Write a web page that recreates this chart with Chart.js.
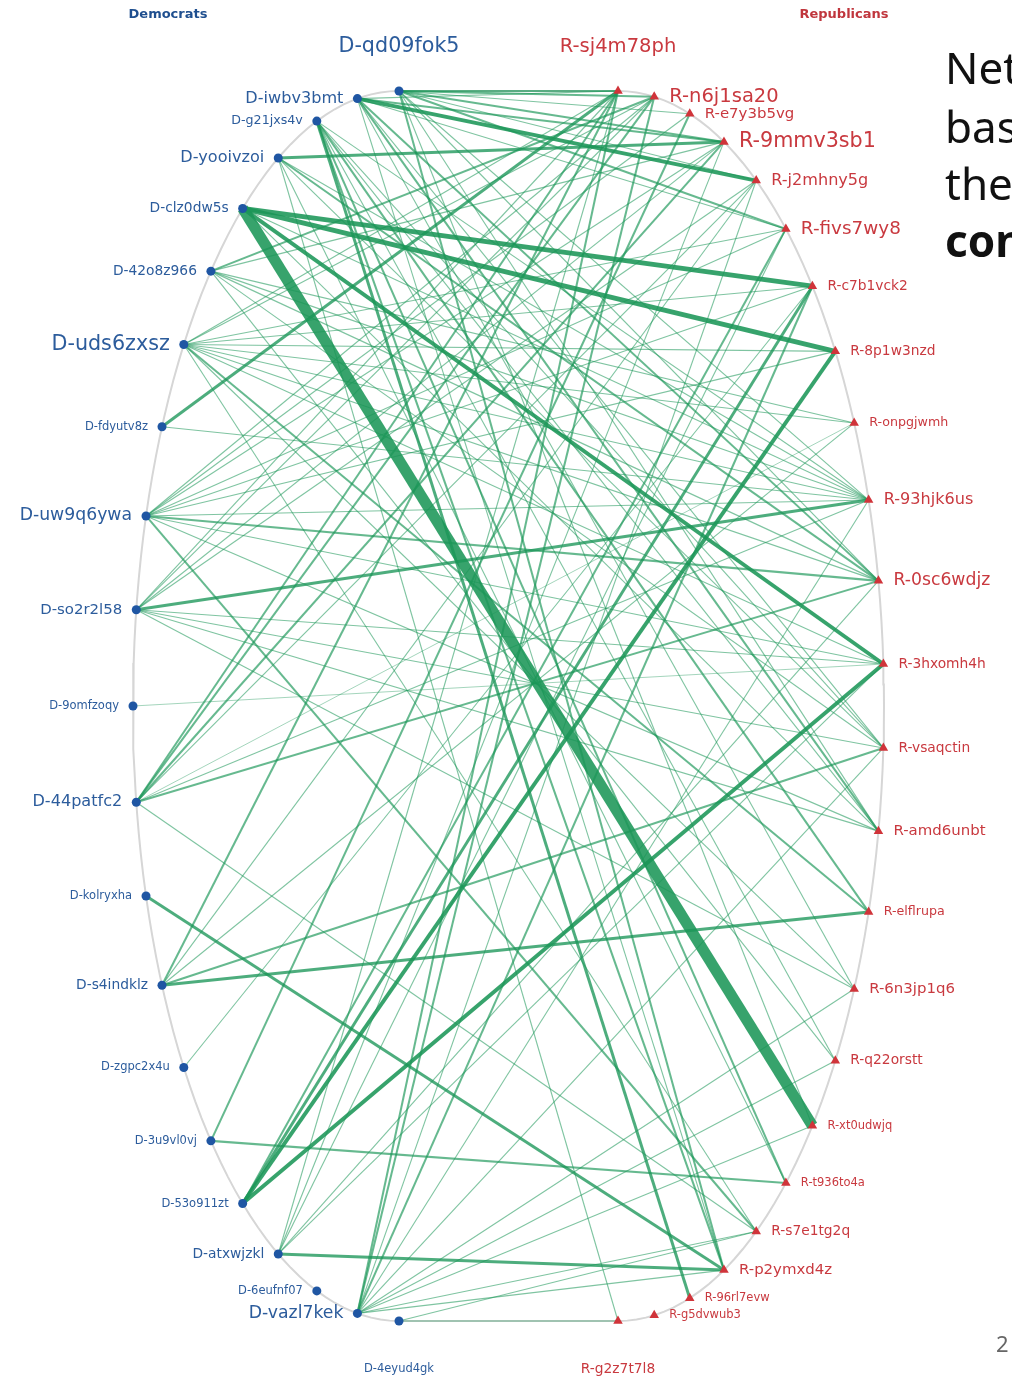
<!DOCTYPE html>
<html>
<head>
<meta charset="utf-8">
<script src="https://cdn.jsdelivr.net/npm/chart.js@4.4.1/dist/chart.umd.min.js"></script>
<style>
  html, body { margin: 0; padding: 0; background: #fff; }
  #wrap { width: 1012px; height: 1378px; }
</style>
</head>
<body>
<div id="wrap"><canvas id="net" width="1012" height="1378"></canvas></div>
<script>
// nodes, top to bottom on each side
const democrats = ['D-qd09fok5', 'D-iwbv3bmt', 'D-g21jxs4v', 'D-yooivzoi', 'D-clz0dw5s', 'D-42o8z966',
  'D-uds6zxsz', 'D-fdyutv8z', 'D-uw9q6ywa', 'D-so2r2l58', 'D-9omfzoqy', 'D-44patfc2', 'D-kolryxha',
  'D-s4indklz', 'D-zgpc2x4u', 'D-3u9vl0vj', 'D-53o911zt', 'D-atxwjzkl', 'D-6eufnf07', 'D-vazl7kek', 'D-4eyud4gk'];
const republicans = ['R-sj4m78ph', 'R-n6j1sa20', 'R-e7y3b5vg', 'R-9mmv3sb1', 'R-j2mhny5g', 'R-fivs7wy8',
  'R-c7b1vck2', 'R-8p1w3nzd', 'R-onpgjwmh', 'R-93hjk6us', 'R-0sc6wdjz', 'R-3hxomh4h', 'R-vsaqctin',
  'R-amd6unbt', 'R-elflrupa', 'R-6n3jp1q6', 'R-q22orstt', 'R-xt0udwjq', 'R-t936to4a', 'R-s7e1tg2q',
  'R-p2ymxd4z', 'R-96rl7evw', 'R-g5dvwub3', 'R-g2z7t7l8'];

// prominence score of each node (drives the label size)
const demProminence = [8, 4, 1, 4, 2, 2, 8, 0, 5, 3, 0, 4, 0, 2, 0, 0, 0, 2, 0, 5, 0];
const repProminence = [7, 7, 3, 8, 4, 6, 2, 2, 1, 4, 5, 2, 2, 3, 1, 3, 2, 0, 0, 2, 3, 0, 0, 2];

// links: [democrat, republican, strength]
const links = [
  ['D-qd09fok5', 'R-sj4m78ph', 2], ['D-qd09fok5', 'R-n6j1sa20', 2], ['D-qd09fok5', 'R-e7y3b5vg', 1],
  ['D-qd09fok5', 'R-9mmv3sb1', 2], ['D-qd09fok5', 'R-j2mhny5g', 1], ['D-qd09fok5', 'R-fivs7wy8', 2],
  ['D-qd09fok5', 'R-93hjk6us', 1], ['D-qd09fok5', 'R-0sc6wdjz', 1], ['D-qd09fok5', 'R-amd6unbt', 1],
  ['D-qd09fok5', 'R-xt0udwjq', 1], ['D-qd09fok5', 'R-p2ymxd4z', 2],
  ['D-iwbv3bmt', 'R-j2mhny5g', 4], ['D-iwbv3bmt', 'R-9mmv3sb1', 2], ['D-iwbv3bmt', 'R-sj4m78ph', 1],
  ['D-iwbv3bmt', 'R-fivs7wy8', 1], ['D-iwbv3bmt', 'R-0sc6wdjz', 2], ['D-iwbv3bmt', 'R-vsaqctin', 1],
  ['D-iwbv3bmt', 'R-amd6unbt', 2], ['D-iwbv3bmt', 'R-6n3jp1q6', 1], ['D-iwbv3bmt', 'R-p2ymxd4z', 1],
  ['D-g21jxs4v', 'R-96rl7evw', 3], ['D-g21jxs4v', 'R-p2ymxd4z', 2], ['D-g21jxs4v', 'R-t936to4a', 2],
  ['D-g21jxs4v', 'R-q22orstt', 1], ['D-g21jxs4v', 'R-elflrupa', 2], ['D-g21jxs4v', 'R-amd6unbt', 1],
  ['D-g21jxs4v', 'R-93hjk6us', 1], ['D-g21jxs4v', 'R-vsaqctin', 1],
  ['D-yooivzoi', 'R-9mmv3sb1', 3], ['D-yooivzoi', 'R-0sc6wdjz', 2], ['D-yooivzoi', 'R-93hjk6us', 1],
  ['D-yooivzoi', 'R-vsaqctin', 1], ['D-yooivzoi', 'R-t936to4a', 1], ['D-yooivzoi', 'R-g2z7t7l8', 1],
  ['D-clz0dw5s', 'R-xt0udwjq', 10], ['D-clz0dw5s', 'R-c7b1vck2', 5], ['D-clz0dw5s', 'R-8p1w3nzd', 5],
  ['D-clz0dw5s', 'R-3hxomh4h', 4], ['D-clz0dw5s', 'R-93hjk6us', 1], ['D-clz0dw5s', 'R-amd6unbt', 1],
  ['D-42o8z966', 'R-n6j1sa20', 2], ['D-42o8z966', 'R-9mmv3sb1', 1], ['D-42o8z966', 'R-onpgjwmh', 1],
  ['D-42o8z966', 'R-93hjk6us', 1], ['D-42o8z966', 'R-0sc6wdjz', 1], ['D-42o8z966', 'R-vsaqctin', 1],
  ['D-42o8z966', 'R-q22orstt', 1],
  ['D-uds6zxsz', 'R-sj4m78ph', 1], ['D-uds6zxsz', 'R-n6j1sa20', 1], ['D-uds6zxsz', 'R-fivs7wy8', 1],
  ['D-uds6zxsz', 'R-c7b1vck2', 1], ['D-uds6zxsz', 'R-8p1w3nzd', 1], ['D-uds6zxsz', 'R-onpgjwmh', 1],
  ['D-uds6zxsz', 'R-93hjk6us', 1], ['D-uds6zxsz', 'R-0sc6wdjz', 1], ['D-uds6zxsz', 'R-3hxomh4h', 1],
  ['D-uds6zxsz', 'R-elflrupa', 2], ['D-uds6zxsz', 'R-6n3jp1q6', 1], ['D-uds6zxsz', 'R-s7e1tg2q', 1],
  ['D-fdyutv8z', 'R-sj4m78ph', 3], ['D-fdyutv8z', 'R-93hjk6us', 1],
  ['D-uw9q6ywa', 'R-n6j1sa20', 1], ['D-uw9q6ywa', 'R-e7y3b5vg', 1], ['D-uw9q6ywa', 'R-9mmv3sb1', 1],
  ['D-uw9q6ywa', 'R-fivs7wy8', 1], ['D-uw9q6ywa', 'R-c7b1vck2', 1], ['D-uw9q6ywa', 'R-8p1w3nzd', 1],
  ['D-uw9q6ywa', 'R-93hjk6us', 1], ['D-uw9q6ywa', 'R-0sc6wdjz', 2], ['D-uw9q6ywa', 'R-3hxomh4h', 1],
  ['D-uw9q6ywa', 'R-amd6unbt', 1], ['D-uw9q6ywa', 'R-s7e1tg2q', 2],
  ['D-so2r2l58', 'R-sj4m78ph', 1], ['D-so2r2l58', 'R-n6j1sa20', 1], ['D-so2r2l58', 'R-9mmv3sb1', 1],
  ['D-so2r2l58', 'R-j2mhny5g', 1], ['D-so2r2l58', 'R-93hjk6us', 3], ['D-so2r2l58', 'R-3hxomh4h', 1],
  ['D-so2r2l58', 'R-vsaqctin', 1], ['D-so2r2l58', 'R-amd6unbt', 1], ['D-so2r2l58', 'R-6n3jp1q6', 1],
  ['D-9omfzoqy', 'R-3hxomh4h', 0.5],
  ['D-44patfc2', 'R-sj4m78ph', 2], ['D-44patfc2', 'R-n6j1sa20', 2], ['D-44patfc2', 'R-9mmv3sb1', 2],
  ['D-44patfc2', 'R-j2mhny5g', 1], ['D-44patfc2', 'R-onpgjwmh', 0.5], ['D-44patfc2', 'R-93hjk6us', 1],
  ['D-44patfc2', 'R-0sc6wdjz', 2], ['D-44patfc2', 'R-s7e1tg2q', 1],
  ['D-kolryxha', 'R-p2ymxd4z', 3],
  ['D-s4indklz', 'R-sj4m78ph', 2], ['D-s4indklz', 'R-j2mhny5g', 1], ['D-s4indklz', 'R-onpgjwmh', 1],
  ['D-s4indklz', 'R-vsaqctin', 2], ['D-s4indklz', 'R-elflrupa', 3],
  ['D-zgpc2x4u', 'R-c7b1vck2', 1],
  ['D-3u9vl0vj', 'R-t936to4a', 2], ['D-3u9vl0vj', 'R-e7y3b5vg', 2],
  ['D-53o911zt', 'R-8p1w3nzd', 4], ['D-53o911zt', 'R-3hxomh4h', 4], ['D-53o911zt', 'R-c7b1vck2', 3],
  ['D-53o911zt', 'R-fivs7wy8', 2],
  ['D-atxwjzkl', 'R-p2ymxd4z', 3], ['D-atxwjzkl', 'R-sj4m78ph', 1], ['D-atxwjzkl', 'R-9mmv3sb1', 1],
  ['D-atxwjzkl', 'R-fivs7wy8', 1], ['D-atxwjzkl', 'R-0sc6wdjz', 1], ['D-atxwjzkl', 'R-3hxomh4h', 1],
  ['D-vazl7kek', 'R-sj4m78ph', 2], ['D-vazl7kek', 'R-n6j1sa20', 2], ['D-vazl7kek', 'R-j2mhny5g', 1],
  ['D-vazl7kek', 'R-c7b1vck2', 2], ['D-vazl7kek', 'R-93hjk6us', 1], ['D-vazl7kek', 'R-vsaqctin', 1],
  ['D-vazl7kek', 'R-6n3jp1q6', 1], ['D-vazl7kek', 'R-q22orstt', 1], ['D-vazl7kek', 'R-xt0udwjq', 1],
  ['D-vazl7kek', 'R-s7e1tg2q', 1], ['D-vazl7kek', 'R-p2ymxd4z', 1],
  ['D-4eyud4gk', 'R-g2z7t7l8', 1], ['D-4eyud4gk', 'R-s7e1tg2q', 1]
];

const W = 1012, H = 1378;
const ring = { demX: 399, repX: 618, cy: 706, rx: 266, ry: 615 };
const DEM_NODE = '#1f56a3', DEM_TEXT = '#2c5c9c';
const REP_NODE = '#d0343a', REP_TEXT = '#c9393f';

function arcPoint(cx, deg) {
  const a = deg * Math.PI / 180;
  return { x: cx + ring.rx * Math.cos(a), y: ring.cy - ring.ry * Math.sin(a) };
}
const demPos = i => arcPoint(ring.demX, 90 + 180 * i / (democrats.length - 1));
const repPos = j => arcPoint(ring.repX, 90 - 180 * j / (republicans.length - 1));

const outline = [];
for (let d = 90; d <= 270; d += 2) outline.push(arcPoint(ring.demX, d));
for (let d = -90; d <= 90; d += 2) outline.push(arcPoint(ring.repX, d));
outline.push(outline[0]);

const datasets = [
  { label: 'Democrats', data: democrats.map((n, i) => demPos(i)), pointStyle: 'circle',
    pointRadius: 4.5, backgroundColor: DEM_NODE, borderWidth: 0, order: 0 },
  { label: 'Republicans', data: republicans.map((n, j) => repPos(j)), pointStyle: 'triangle',
    pointRadius: 5.5, backgroundColor: REP_NODE, borderWidth: 0, order: 0 }
];

links.forEach(([d, r, w]) => {
  const a = Math.min(0.88, 0.45 + 0.11 * w);
  datasets.push({
    label: d + ' - ' + r,
    data: [demPos(democrats.indexOf(d)), repPos(republicans.indexOf(r))],
    showLine: true, pointRadius: 0,
    borderColor: `rgba(27,150,88,${a})`,
    borderWidth: w >= 10 ? 11 : Math.max(0.8, 0.92 * w + 0.2),
    order: 20 - w
  });
});

datasets.push({ label: 'ring', data: outline, showLine: true, pointRadius: 0,
  borderColor: '#d6d6d6', borderWidth: 2, order: 100 });

const labels = {
  id: 'labels',
  afterDatasetsDraw(chart) {
    const { ctx, scales: { x, y } } = chart;
    ctx.save();
    ctx.textBaseline = 'middle';
    const put = (name, p, size, color, last, first, side) => {
      const px = x.getPixelForValue(p.x), py = y.getPixelForValue(p.y);
      ctx.font = size + 'px "DejaVu Sans"';
      ctx.fillStyle = color;
      if (first) { ctx.textAlign = 'center'; ctx.fillText(name, px, py - 44); }
      else if (last) { ctx.textAlign = 'center'; ctx.fillText(name, px, py + 48); }
      else if (side < 0) { ctx.textAlign = 'right'; ctx.fillText(name, px - 14, py); }
      else { ctx.textAlign = 'left'; ctx.fillText(name, px + 15, py); }
    };
    democrats.forEach((n, i) => put(n, demPos(i), 11.5 + 1.15 * demProminence[i], DEM_TEXT,
      i === democrats.length - 1, i === 0, -1));
    republicans.forEach((n, j) => put(n, repPos(j), 11.5 + 1.15 * repProminence[j], REP_TEXT,
      j === republicans.length - 1, j === 0, 1));

    ctx.textAlign = 'center';
    ctx.font = 'bold 13px "DejaVu Sans"';
    ctx.fillStyle = '#1f4f8f';
    ctx.fillText('Democrats', 168, 15);
    ctx.fillStyle = '#c0363d';
    ctx.fillText('Republicans', 844, 15);

    // text of the slide beside the chart, cut by the right edge
    ctx.textAlign = 'left';
    ctx.textBaseline = 'alphabetic';
    ctx.fillStyle = '#111';
    ctx.font = '44px "Noto Sans"';
    ctx.fillText('Network', 945, 84);
    ctx.fillText('based on', 945, 143);
    ctx.fillText('the', 945, 200);
    ctx.font = 'bold 44px "Noto Sans"';
    ctx.fillText('connections', 945, 257);
    ctx.font = '22px "Noto Sans"';
    ctx.fillStyle = '#666';
    ctx.fillText('2', 996, 1352);
    ctx.restore();
  }
};

new Chart(document.getElementById('net'), {
  type: 'scatter',
  data: { datasets },
  options: {
    responsive: false,
    animation: false,
    devicePixelRatio: 1,
    events: [],
    layout: { padding: 0, autoPadding: false },
    elements: { line: { tension: 0 } },
    scales: {
      x: { type: 'linear', min: 0, max: W, display: false },
      y: { type: 'linear', min: 0, max: H, reverse: true, display: false }
    },
    plugins: { legend: { display: false }, tooltip: { enabled: false } }
  },
  plugins: [labels]
});
</script>
</body>
</html>
